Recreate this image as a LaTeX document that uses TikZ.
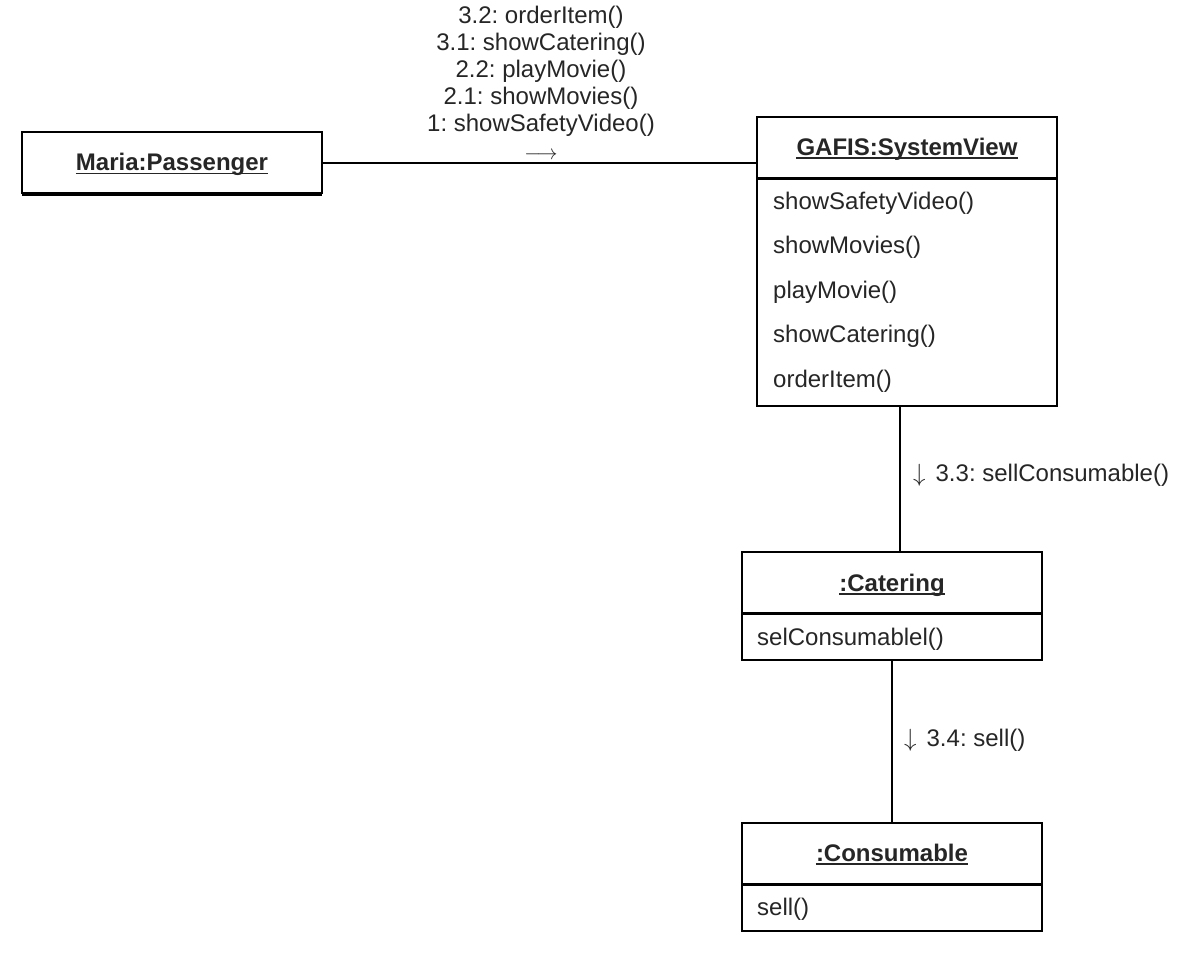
\documentclass[tikz,border=0pt]{standalone}
\usepackage{fontspec}
\setmainfont{Liberation Sans}
\frenchspacing
\definecolor{txt}{HTML}{262626}
\begin{document}
\begin{tikzpicture}[x=1pt,y=-1pt,
  box/.style={draw=black,line width=2pt},
  sep/.style={draw=black,line width=3pt},
  conn/.style={draw=black,line width=2pt},
  hdr/.style={inner sep=0pt,anchor=base,text=txt,font=\fontsize{24}{27}\selectfont\bfseries},
  meth/.style={inner sep=0pt,anchor=base west,text=txt,font=\fontsize{24}{27}\selectfont},
  lbl/.style={inner sep=0pt,anchor=base,text=txt,font=\fontsize{24}{27}\selectfont},
  uline/.style={draw=txt,line width=1.6pt}]
\useasboundingbox[fill=white] (0,0) rectangle (1192,953);

% Maria:Passenger
\path[box] (22,132) rectangle (322,193);
\draw[line width=2.5pt] (22,195) -- (322,195);
\coordinate (pasE) at (322,163);
\node[hdr] (pas) at (172,170.6) {Maria:Passenger};
\draw[uline] ([yshift=-3pt]pas.base west) -- ([yshift=-3pt]pas.base east);

% GAFIS:SystemView
\path[box] (757,117) rectangle (1057,406);
\draw[sep] (757,178) -- (1057,178);
\coordinate (sysW) at (757,163);
\coordinate (sysS) at (900,406);
\node[hdr] (sys) at (907,155) {GAFIS:SystemView};
\draw[uline] ([yshift=-3pt]sys.base west) -- ([yshift=-3pt]sys.base east);
\node[meth] (m1) at (773,209.5) {showSafetyVideo()};
\node[meth] (m2) at (773,253.9) {showMovies()};
\node[meth] (m3) at (773,298.3) {playMovie()};
\node[meth] (m4) at (773,342.7) {showCatering()};
\node[meth] (m5) at (773,387.1) {orderItem()};

% :Catering
\path[box] (742,552) rectangle (1042,660);
\draw[sep] (742,613) -- (1042,613);
\coordinate (catN) at (900,552);
\coordinate (catS) at (892,660);
\node[hdr] (cat) at (892,591) {:Catering};
\draw[uline] ([yshift=-3pt]cat.base west) -- ([yshift=-3pt]cat.base east);
\node[meth] (cm1) at (757,645.6) {selConsumablel()};

% :Consumable
\path[box] (742,823) rectangle (1042,931);
\draw[sep] (742,884) -- (1042,884);
\coordinate (conN) at (892,823);
\node[hdr] (con) at (892,861) {:Consumable};
\draw[uline] ([yshift=-3pt]con.base west) -- ([yshift=-3pt]con.base east);
\node[meth] (cn1) at (757,915.6) {sell()};

% connectors
\draw[conn] (pasE) -- (sysW);
\draw[conn] (sysS) -- (catN);
\draw[conn] (catS) -- (conN);

% message labels
\node[lbl] (l5) at (541,23.6) {3.2: orderItem()};
\node[lbl] (l4) at (541,50.6) {3.1: showCatering()};
\node[lbl] (l3) at (541,77.6) {2.2: playMovie()};
\node[lbl] (l2) at (541,104.6) {2.1: showMovies()};
\node[lbl] (l1) at (541,131.6) {1: showSafetyVideo()};
\node[inner sep=0pt,text=txt,font=\fontsize{21}{24}\selectfont] (arr) at (541,156) {$\longrightarrow$};

\node[meth] (l6) at (913,481) {{\fontsize{28}{30}\selectfont$\downarrow$}\hspace{10pt}3.3: sellConsumable()};
\node[meth] (l7) at (904,746) {{\fontsize{28}{30}\selectfont$\downarrow$}\hspace{10pt}3.4: sell()};
\end{tikzpicture}
\end{document}
